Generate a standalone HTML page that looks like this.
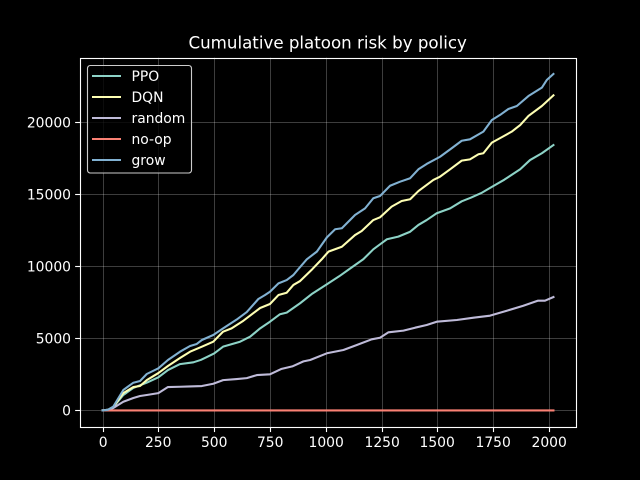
<!DOCTYPE html>
<html>
<head>
<meta charset="utf-8">
<title>Cumulative platoon risk by policy</title>
<style>
html,body{margin:0;padding:0;background:#000;width:640px;height:480px;overflow:hidden}
svg{display:block}
text{font-family:"DejaVu Sans","Liberation Sans",sans-serif;fill:#fff}
</style>
</head>
<body>
<svg id="chart" width="640" height="480" viewBox="0 0 640 480" xmlns="http://www.w3.org/2000/svg">
<rect x="0" y="0" width="640" height="480" fill="#000"/>
<g id="grid"></g>
<g id="series"></g>
<rect x="80.5" y="58.5" width="496" height="369" fill="none" stroke="#fff" stroke-width="1.11"/>
<g id="ticks"></g>
<text x="327.7" y="48.5" font-size="16.67" text-anchor="middle">Cumulative platoon risk by policy</text>
<g id="legend">
<rect x="87.5" y="65.5" width="104" height="107.5" rx="2.8" ry="2.8" fill="#000" fill-opacity="0.8" stroke="#ccc" stroke-width="1.11"/>
</g>
</svg>
<script>
const xTicks = [0, 250, 500, 750, 1000, 1250, 1500, 1750, 2000];
const yTicks = [0, 5000, 10000, 15000, 20000];
const seriesNames = ['PPO', 'DQN', 'random', 'no-op', 'grow'];

const ppoSteps = [0, 25, 48, 93, 138, 198, 250, 293, 347, 407, 440, 467, 500, 540, 616, 661, 706, 750, 795, 825, 885, 940, 1000, 1060, 1110, 1168, 1213, 1274, 1325, 1378, 1415, 1452, 1497, 1557, 1609, 1650, 1700, 1744, 1800, 1871, 1915, 1968, 2020];
const ppoValues = [0, 40, 230, 1070, 1560, 1920, 2295, 2800, 3210, 3335, 3500, 3700, 3950, 4420, 4765, 5110, 5690, 6150, 6670, 6780, 7430, 8100, 8700, 9300, 9850, 10480, 11170, 11870, 12050, 12390, 12860, 13200, 13670, 14010, 14500, 14750, 15100, 15500, 16000, 16720, 17360, 17830, 18400];

const dqnSteps = [0, 25, 48, 93, 138, 168, 198, 250, 293, 347, 392, 445, 496, 540, 578, 631, 676, 706, 750, 788, 825, 855, 885, 940, 982, 1012, 1072, 1131, 1161, 1213, 1243, 1295, 1340, 1378, 1415, 1482, 1512, 1557, 1609, 1646, 1684, 1706, 1744, 1788, 1833, 1871, 1908, 1968, 2020];
const dqnValues = [0, 40, 235, 1200, 1620, 1690, 2100, 2590, 3080, 3630, 4070, 4420, 4765, 5460, 5690, 6220, 6750, 7100, 7380, 8000, 8160, 8700, 8970, 9800, 10480, 11010, 11350, 12160, 12440, 13200, 13390, 14130, 14520, 14640, 15210, 15980, 16210, 16720, 17320, 17410, 17760, 17830, 18570, 18940, 19330, 19790, 20420, 21110, 21850];

const randomSteps = [0, 25, 48, 93, 138, 168, 198, 250, 293, 347, 392, 445, 496, 540, 601, 646, 691, 750, 800, 850, 900, 930, 1005, 1079, 1139, 1206, 1243, 1281, 1348, 1400, 1452, 1497, 1587, 1662, 1736, 1811, 1885, 1951, 1982, 2020];
const randomValues = [0, 30, 165, 600, 860, 1000, 1070, 1200, 1620, 1640, 1660, 1690, 1850, 2100, 2175, 2240, 2450, 2500, 2870, 3050, 3400, 3495, 3960, 4190, 4535, 4930, 5040, 5415, 5530, 5735, 5920, 6150, 6270, 6430, 6570, 6910, 7260, 7610, 7610, 7860];

const noopSteps = [0, 500, 1000, 1500, 2020];
const noopValues = [0, 0, 0, 0, 0];

const growSteps = [0, 25, 48, 93, 138, 168, 198, 250, 293, 347, 392, 422, 445, 496, 540, 601, 646, 698, 728, 750, 788, 825, 855, 876, 915, 960, 1005, 1042, 1072, 1131, 1176, 1213, 1243, 1288, 1333, 1378, 1415, 1452, 1512, 1564, 1609, 1646, 1706, 1744, 1781, 1818, 1856, 1908, 1968, 1990, 2020];
const growValues = [0, 50, 260, 1415, 1920, 2040, 2524, 2920, 3495, 4070, 4466, 4605, 4882, 5229, 5690, 6300, 6820, 7725, 8000, 8230, 8810, 9040, 9390, 9780, 10480, 11010, 12000, 12560, 12630, 13550, 14010, 14710, 14870, 15580, 15860, 16100, 16720, 17090, 17590, 18180, 18700, 18800, 19330, 20140, 20490, 20900, 21110, 21800, 22380, 22910, 23330];

const plotLeft = 80, plotRight = 576, plotTop = 57.6, plotBottom = 427.2;
const xMin = -101, xMax = 2121, yMin = -1165, yMax = 24465;
const NS = 'http://www.w3.org/2000/svg';

function xScale(v) {
  return plotLeft + (v - xMin) / (xMax - xMin) * (plotRight - plotLeft);
}
function yScale(v) {
  return plotBottom - (v - yMin) / (yMax - yMin) * (plotBottom - plotTop);
}
function snap(p) {
  return Math.floor(p + 0.5) + 0.5;
}
function make(tag, attrs, parent) {
  const el = document.createElementNS(NS, tag);
  Object.keys(attrs).forEach(function (k) { el.setAttribute(k, attrs[k]); });
  parent.appendChild(el);
  return el;
}

const gridG = document.getElementById('grid');
const ticksG = document.getElementById('ticks');
const seriesG = document.getElementById('series');
const legendG = document.getElementById('legend');

xTicks.forEach(function (t) {
  const x = snap(xScale(t));
  const g = make('line', {x1: x, x2: x, y1: plotTop, y2: plotBottom, stroke: '#fff', 'stroke-opacity': 0.24, 'stroke-width': 1}, gridG);
  
  
  const m = make('line', {x1: x, x2: x, y1: plotBottom, y2: plotBottom + 4.86, stroke: '#fff', 'stroke-width': 1.11}, ticksG);
  
  
  const l = make('text', {x: x - 0.3, y: 447, 'font-size': 13.89, 'text-anchor': 'middle'}, ticksG);
  
  
  l.textContent = String(t);
});

yTicks.forEach(function (t) {
  const y = snap(yScale(t));
  const g = make('line', {x1: plotLeft, x2: plotRight, y1: y, y2: y, stroke: '#fff', 'stroke-opacity': 0.24, 'stroke-width': 1}, gridG);
  
  
  const m = make('line', {x1: plotLeft - 4.86, x2: plotLeft, y1: y, y2: y, stroke: '#fff', 'stroke-width': 1.11}, ticksG);
  
  
  const l = make('text', {x: 71, y: y + 4.8, 'font-size': 13.89, 'text-anchor': 'end'}, ticksG);
  
  
  l.textContent = String(t);
});

function drawSeries(steps, values, color) {
  const pts = steps.map(function (s, i) {
    return xScale(s).toFixed(2) + ',' + yScale(values[i]).toFixed(2);
  }).join(' ');
  return make('polyline', {points: pts, fill: 'none', stroke: color, 'stroke-width': 2.08, 'stroke-linejoin': 'round', 'stroke-linecap': 'square'}, seriesG);
}

const ppoLine = drawSeries(ppoSteps, ppoValues, '#8dd3c7');


const dqnLine = drawSeries(dqnSteps, dqnValues, '#feffb3');


const randomLine = drawSeries(randomSteps, randomValues, '#bfbbd9');


const noopLine = drawSeries(noopSteps, noopValues, '#fa8174');


const growLine = drawSeries(growSteps, growValues, '#81b1d2');



const legendColors = ['#8dd3c7', '#feffb3', '#bfbbd9', '#fa8174', '#81b1d2'];
seriesNames.forEach(function (name, i) {
  const y = 76 + i * 21;
  const s = make('line', {x1: 92, x2: 121, y1: y, y2: y, stroke: legendColors[i], 'stroke-width': 2}, legendG);
  
  
  const t = make('text', {x: 131.5, y: y + 5, 'font-size': 13.89}, legendG);
  
  
  t.textContent = name;
});
</script>
</body>
</html>
